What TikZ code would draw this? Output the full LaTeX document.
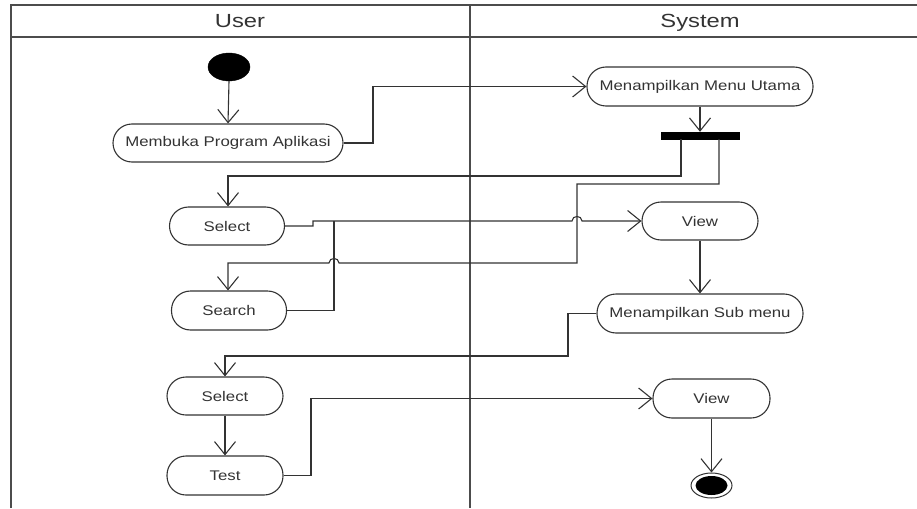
\documentclass[tikz,border=0pt]{standalone}
\usepackage{fontspec}
\usepackage{graphicx}
\setmainfont{Liberation Sans}
\usetikzlibrary{arrows.meta,shapes.geometric}
\newcommand\stxt[1]{\scalebox{1.2}[1]{#1}}
\newcommand\htxt[1]{\scalebox{1.25}[1]{#1}}
\tikzset{
  act/.style={draw=black!80, line width=1.1pt, rounded corners=19pt, inner sep=0pt,
    text=black!80, font=\fontsize{14}{16}\selectfont},
  flow/.style={draw=black!80, line width=1.1pt, -{Straight Barb[length=13pt,width=21pt]}},
  plain/.style={draw=black!80, line width=1.1pt},
  frame/.style={draw=black!70, line width=1.5pt},
  hdr/.style={text=black!80, font=\fontsize{19}{22}\selectfont, inner sep=0pt, anchor=base}
}
\begin{document}
\begin{tikzpicture}[x=1pt,y=-1pt]
\useasboundingbox (0,0) rectangle (917,508);
% frame
\draw[frame] (11,508) -- (11,5) -- (920,5);
\draw[frame] (11,37) -- (920,37);
\draw[frame] (470,5) -- (470,508);
\node[hdr] (huser) at (240,28) {\htxt{User}};
\node[hdr] (hsys) at (700,28) {\htxt{System}};
% nodes
\node[ellipse, fill=black, draw=black, minimum width=42pt, minimum height=28pt, inner sep=0pt] (start) at (229,67) {};
\node[act, minimum width=230pt, minimum height=38pt] (m1) at (228,143) {\stxt{Membuka Program Aplikasi}};
\node[act, minimum width=226pt, minimum height=39pt] (s1) at (700,86.5) {\stxt{Menampilkan Menu Utama}};
\node[fill=black, draw=black, minimum width=78pt, minimum height=7pt, inner sep=0pt] (bar) at (700,135.5) {};
\node[act, minimum width=115pt, minimum height=38pt] (sel1) at (227,226) {\stxt{Select}};
\node[act, minimum width=116pt, minimum height=38pt] (view1) at (700,221) {\stxt{View}};
\node[act, minimum width=115pt, minimum height=39pt] (search) at (229,310.5) {\stxt{Search}};
\node[act, minimum width=206pt, minimum height=39pt] (sub) at (700,313.5) {\stxt{Menampilkan Sub menu}};
\node[act, minimum width=116pt, minimum height=38pt] (sel2) at (225,396) {\stxt{Select}};
\node[act, minimum width=116pt, minimum height=39pt] (test) at (225,475.5) {\stxt{Test}};
\node[act, minimum width=117pt, minimum height=39pt] (view2) at (711.5,398.5) {\stxt{View}};
\node[ellipse, draw=black!80, line width=1pt, minimum width=41pt, minimum height=25pt, inner sep=0pt] (end) at (711.5,485.5) {};
\node[ellipse, fill=black, minimum width=32pt, minimum height=19pt, inner sep=0pt] (endin) at (end.center) {};
% connectors
\draw[flow] (start.south) -- (m1.north);
\draw[flow] (m1.east) -- (373,143) -- (373,86.5) -- (s1.west);
\draw[flow] (s1.south) -- (bar.north);
\draw[flow] (681,139) -- (681,176) -- (228,176) -- (sel1.north -| 228,0);
\draw[flow] (719,139) -- (719,184) -- (577,184) -- (577,263) -- (339,263)
   .. controls (339,257) and (329,257) .. (329,263) -- (228,263) -- (search.north -| 228,0);
\draw[flow] (sel1.east) -- (313,226) -- (313,221) -- (572,221)
   .. controls (572,215) and (582,215) .. (582,221) -- (view1.west);
\draw[plain] (search.east) -- (334,310.5) -- (334,221);
\draw[flow] (view1.south) -- (sub.north);
\draw[flow] (sub.west) -- (568,313.5) -- (568,356) -- (225,356) -- (sel2.north);
\draw[flow] (sel2.south) -- (test.north);
\draw[flow] (test.east) -- (311,475.5) -- (311,398.5) -- (view2.west);
\draw[flow] (view2.south) -- (end.north);
\end{tikzpicture}
\end{document}
